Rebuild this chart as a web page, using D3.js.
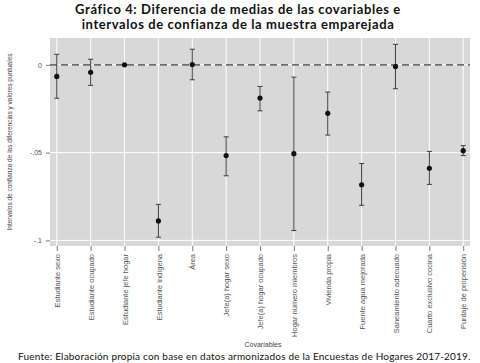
<!DOCTYPE html>
<html>
<head>
<meta charset="utf-8">
<script src="https://cdn.jsdelivr.net/npm/d3@7"></script>
<style>
  body { margin: 0; background: #fff; }
  svg { display: block; }
</style>
</head>
<body>
<div id="chart"></div>
<script>
// Diferencia de medias de covariables con IC (muestra emparejada)
const covariables = [
  "Estudiante sexo", "Estudiante ocupado", "Estudiante jefe hogar", "Estudiante indígena",
  "Área", "Jefe(a) hogar sexo", "Jefe(a) hogar ocupado", "Hogar número miembros",
  "Vivienda propia", "Fuente agua mejorada", "Saneamiento adecuado",
  "Cuarto exclusivo cocina", "Puntaje de propensión"
];
const puntual = [-0.0066, -0.0042, 0.0000, -0.0889, 0.0002, -0.0517, -0.0189, -0.0506,
  -0.0276, -0.0683, -0.0010, -0.0589, -0.0489];
const superior = [0.0060, 0.0032, 0.0000, -0.0795, 0.0089, -0.0410, -0.0123, -0.0070,
  -0.0155, -0.0562, 0.0117, -0.0493, -0.0460];
const inferior = [-0.0190, -0.0117, 0.0000, -0.0982, -0.0085, -0.0632, -0.0262, -0.0944,
  -0.0400, -0.0800, -0.0136, -0.0681, -0.0517];
const yTicks = [0, -0.05, -0.1];
const yTickLabels = ["0", "-.05", "-.1"];

const W = 480, H = 363;
const ML = 50, MR = 10, TOP = 38, BOT = 117;
const SANS = "'Liberation Sans', Arial, sans-serif";
const GEO = "Lato, 'DejaVu Sans', sans-serif";

const svg = d3.select("#chart").append("svg")
  .attr("width", W).attr("height", H);

const x = d3.scalePoint().domain(covariables).range([ML, W - MR]).padding(0.2);
const y = d3.scaleLinear().domain([-0.1032, 0.0153]).range([H - BOT, TOP]);

// titulo
svg.append("text").attr("x", 238).attr("y", 14).attr("text-anchor", "middle")
  .attr("style", `font:bold 13px ${GEO};fill:#111;letter-spacing:0.6px`)
  .text("Gráfico 4: Diferencia de medias de las covariables e");
svg.append("text").attr("x", 238).attr("y", 29).attr("text-anchor", "middle")
  .attr("style", `font:bold 13px ${GEO};fill:#111;letter-spacing:0.6px`)
  .text("intervalos de confianza de la muestra emparejada");

// panel
svg.append("rect").attr("x", ML).attr("y", TOP)
  .attr("width", W - MR - ML).attr("height", H - BOT - TOP)
  .attr("fill", "#d8d8d8");

// grilla
yTicks.forEach(v => {
  svg.append("line").attr("x1", ML).attr("x2", W - MR)
    .attr("y1", y(v)).attr("y2", y(v))
    .attr("stroke", "#fff").attr("stroke-width", 1);
});
covariables.forEach(c => {
  svg.append("line").attr("x1", x(c)).attr("x2", x(c))
    .attr("y1", TOP).attr("y2", H - BOT)
    .attr("stroke", "#fff").attr("stroke-width", 1);
});

// linea de referencia en 0
svg.append("line").attr("x1", ML).attr("x2", W - MR)
  .attr("y1", y(0)).attr("y2", y(0))
  .attr("stroke", "#6e6e6e").attr("stroke-width", 1.8)
  .attr("stroke-dasharray", "7 4");

// ejes
const yAxis = svg.append("g").attr("transform", `translate(${ML},0)`)
  .call(d3.axisLeft(y).tickValues(yTicks).tickSize(4).tickPadding(4)
    .tickFormat((d, i) => yTickLabels[i]));
yAxis.select(".domain").remove();
yAxis.selectAll("line").attr("stroke", "#777");
yAxis.selectAll("text").attr("style", `font:7px ${SANS};fill:#555`);

const xAxis = svg.append("g").attr("transform", `translate(0,${H - BOT})`)
  .call(d3.axisBottom(x).tickSize(5).tickPadding(3));
xAxis.select(".domain").remove();
xAxis.selectAll("line").attr("stroke", "#777");
xAxis.selectAll("text")
  .attr("style", `font:7.5px ${SANS};fill:#555`)
  .attr("text-anchor", "end")
  .attr("transform", "rotate(-90)")
  .attr("x", -8).attr("y", 0).attr("dy", "0.35em");

// titulos de ejes
svg.append("text").attr("x", 263).attr("y", 347)
  .attr("text-anchor", "middle")
  .attr("style", `font:7px ${SANS};fill:#444`).text("Covariables");
svg.append("text")
  .attr("transform", `translate(12,${(TOP + H - BOT) / 2}) rotate(-90)`)
  .attr("text-anchor", "middle")
  .attr("style", `font:6.5px ${SANS};fill:#444`)
  .text("Intervalos de confianza de las diferencias y valores puntuales");

// intervalos y puntos
const cap = 2.5;
covariables.forEach((c, i) => {
  if (superior[i] === inferior[i]) return;
  const g = svg.append("g").attr("stroke", "#3a3a3a").attr("stroke-width", 1);
  g.append("line").attr("x1", x(c)).attr("x2", x(c))
    .attr("y1", y(superior[i])).attr("y2", y(inferior[i]));
  g.append("line").attr("x1", x(c) - cap).attr("x2", x(c) + cap)
    .attr("y1", y(superior[i])).attr("y2", y(superior[i]));
  g.append("line").attr("x1", x(c) - cap).attr("x2", x(c) + cap)
    .attr("y1", y(inferior[i])).attr("y2", y(inferior[i]));
});
svg.append("g").selectAll("circle").data(covariables).join("circle")
  .attr("cx", d => x(d)).attr("cy", (d, i) => y(puntual[i]))
  .attr("r", 2.6).attr("fill", "#111");

// fuente
svg.append("text").attr("x", 18).attr("y", 360)
  .attr("style", `font:10px ${GEO};fill:#111;letter-spacing:0.2px`)
  .text("Fuente: Elaboración propia con base en datos armonizados de la Encuestas de Hogares 2017-2019.");
</script>
</body>
</html>
